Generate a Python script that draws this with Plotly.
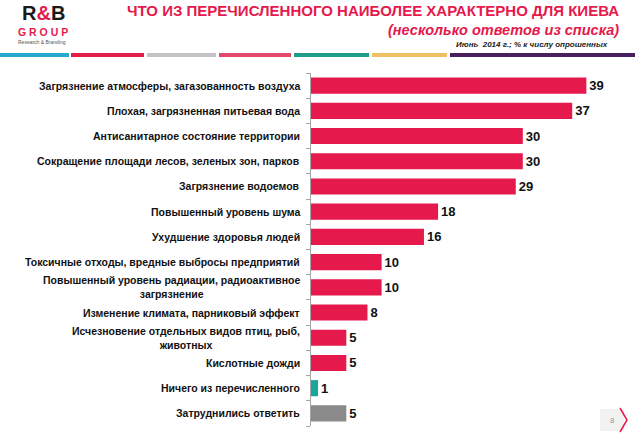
import plotly.graph_objects as go

categories = [
    "Загрязнение атмосферы, загазованность воздуха",
    "Плохая, загрязненная питьевая вода",
    "Антисанитарное состояние территории",
    "Сокращение площади лесов, зеленых зон, парков",
    "Загрязнение водоемов",
    "Повышенный уровень шума",
    "Ухудшение здоровья людей",
    "Токсичные отходы, вредные выбросы предприятий",
    "Повышенный уровень радиации, радиоактивное<br>загрязнение",
    "Изменение климата, парниковый эффект",
    "Исчезновение отдельных видов птиц, рыб,<br>животных",
    "Кислотные дожди",
    "Ничего из перечисленного",
    "Затруднились ответить",
]
values = [39, 37, 30, 30, 29, 18, 16, 10, 10, 8, 5, 5, 1, 5]

RED = "#E5194C"
TEAL = "#1AA79B"
GREY = "#8A8A8A"
bar_colors = [RED] * 12 + [TEAL, GREY]

W, H = 635, 437
ML, MT, MR, MB = 311, 73, 6, 11
PW, PH = W - ML - MR, H - MT - MB


def px(x):
    return (x - ML) / PW


def py(y):
    return 1 - (y - MT) / PH


fig = go.Figure(
    go.Bar(
        x=values,
        y=list(range(len(categories))),
        orientation="h",
        marker=dict(color=bar_colors, line=dict(width=0)),
        width=0.64,
        text=values,
        textposition="outside",
        textfont=dict(family="Liberation Sans, Arial", size=13, color="#111111", weight="bold"),
        cliponaxis=False,
    )
)

# category labels: centred lines, block right-aligned next to the axis
annotations = []
for i, cat in enumerate(categories):
    annotations.append(dict(
        x=0, xref="paper", y=i, yref="y", xanchor="right", yanchor="middle",
        xshift=-9, text=f"<b>{cat}</b>", showarrow=False, align="center",
        font=dict(family="Liberation Sans, Arial", size=10.5, color="#111111"),
    ))

NARROW = "Liberation Sans Narrow, Arial Narrow, Liberation Sans"
header = [
    (621, 10, "right", "<b>ЧТО ИЗ ПЕРЕЧИСЛЕННОГО НАИБОЛЕЕ ХАРАКТЕРНО ДЛЯ КИЕВА</b>", NARROW, 15, RED),
    (621, 30, "right", "<b><i>(несколько ответов из списка)</i></b>", NARROW, 14.5, RED),
    (610, 45, "right", "<b><i>Июнь  2014 г.; % к числу опрошенных</i></b>", NARROW, 8, "#222222"),
    (43, 12.5, "center", "<b>R<span style='color:#E5194C'>&amp;</span>B</b>", "Liberation Sans", 20, "#1A1A1A"),
    (43, 32.5, "center", "<b>G R O U P</b>", "Liberation Sans", 10.5, RED),
    (42, 42.5, "center", "Research &amp; Branding", "Liberation Sans", 5, "#555555"),
    (612, 420, "center", "8", "Liberation Sans", 8, "#999999"),
]
for x, y, anchor, text, fam, size, color in header:
    annotations.append(dict(
        x=px(x), y=py(y), xref="paper", yref="paper", text=text, showarrow=False,
        xanchor=anchor, yanchor="middle", font=dict(family=fam, size=size, color=color),
    ))

# colour stripe under the header
stripe = [(0, 69, "#27A9CF"), (71, 144, "#E31D48"), (147, 216, "#C4C4C6"), (219, 291, "#E14A6A"),
          (294, 369, "#1E9E8A"), (372, 447, "#F0C060"), (450, 640, "#4A1F5E")]
shapes = []
for x0, x1, c in stripe:
    shapes.append(dict(type="rect", xref="paper", yref="paper", x0=px(x0), x1=px(x1),
                       y0=py(57), y1=py(53), fillcolor=c, line=dict(width=0), layer="below"))
# page number tab
shapes.append(dict(type="rect", xref="paper", yref="paper", x0=px(600), x1=px(624),
                   y0=py(431), y1=py(409), fillcolor="#F2F2F2", line=dict(width=0), layer="below"))
shapes.append(dict(type="path", xref="paper", yref="paper",
                   path=f"M {px(620)} {py(408)} L {px(627)} {py(420)} L {px(620)} {py(432)}",
                   line=dict(color=RED, width=1.5)))

fig.update_layout(
    width=W, height=H,
    margin=dict(l=ML, r=MR, t=MT, b=MB, autoexpand=False),
    paper_bgcolor="white", plot_bgcolor="white",
    showlegend=False,
    annotations=annotations,
    shapes=shapes,
    xaxis=dict(range=[0, PW / 7.06], visible=False, fixedrange=True),
    yaxis=dict(
        type="linear", range=[len(categories) - 0.5, -0.5], showticklabels=False,
        showline=True, linecolor="#A6A6A6", linewidth=1,
        ticks="outside", ticklen=4, tickcolor="#A6A6A6",
        tickmode="array", tickvals=[i - 0.5 for i in range(len(categories) + 1)],
        showgrid=False, zeroline=False, fixedrange=True,
    ),
)

# drop the default 8px page margin so the figure fills the window
fig.write_html(
    "out.html",
    config={"displayModeBar": False},
    post_script="document.body.style.margin='0px';",
)
